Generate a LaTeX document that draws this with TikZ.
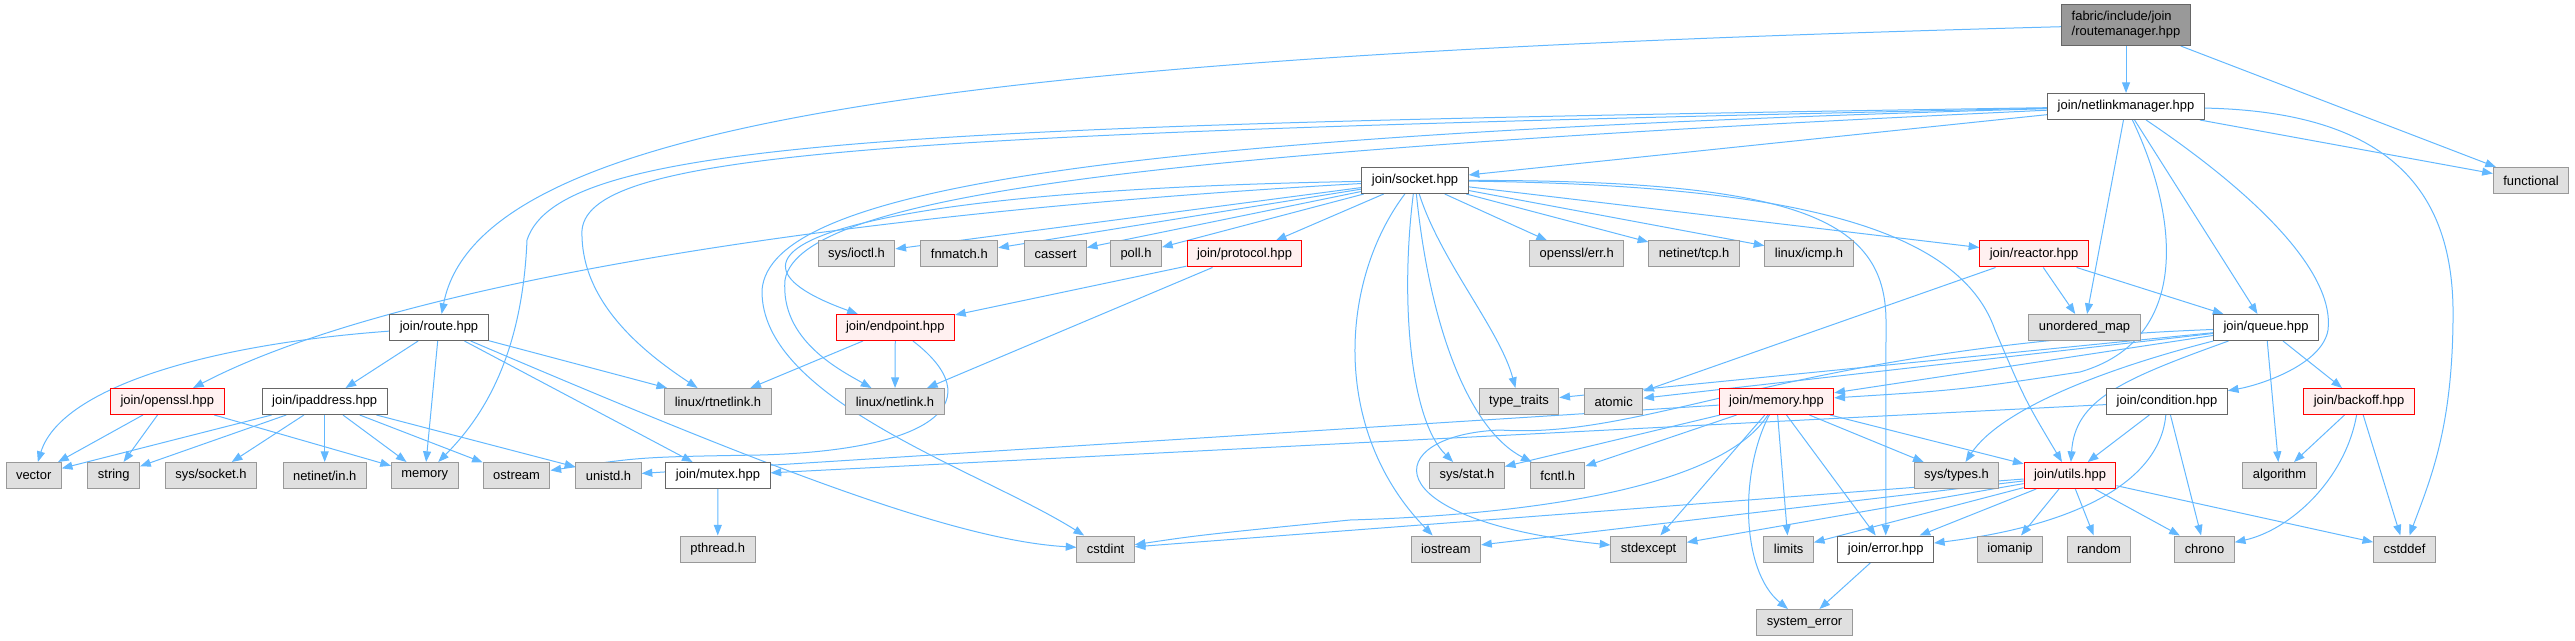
\documentclass[tikz,border=0pt]{standalone}
\usepackage{fontspec}
\newfontfamily\dxfont{Liberation Sans}
\usetikzlibrary{arrows.meta}
\pgfdeclarelayer{background}
\pgfsetlayers{background,main}
\definecolor{edgeblue}{HTML}{63B8FF}
\definecolor{sysfill}{HTML}{E0E0E0}
\definecolor{sysline}{HTML}{999999}
\definecolor{hdrline}{HTML}{666666}
\definecolor{errfill}{HTML}{FFF0F0}
\definecolor{errline}{HTML}{FF0000}
\definecolor{rootfill}{HTML}{999999}
\begin{document}
\begin{tikzpicture}[x=0.75pt, y=-0.75pt]
      \tikzstyle{every node}=[rectangle, draw, line width=0.75pt, minimum height=19.5pt, inner xsep=7.5pt, inner ysep=2pt, font=\dxfont\fontsize{9.7}{11.25}\selectfont]
      \tikzstyle{sysbox}=[fill=sysfill, draw=sysline]
      \tikzstyle{hdrbox}=[fill=white, draw=hdrline]
      \tikzstyle{errbox}=[fill=errfill, draw=errline]
      \tikzstyle{rootbox}=[fill=rootfill, draw=hdrline, align=left, minimum height=30.75pt]
      \tikzstyle{link}=[draw=edgeblue, line width=0.75pt, -{Triangle[length=8pt, width=6pt]}]

      \useasboundingbox (0,0) rectangle (2575,641);

      % project headers
      \path (2126,25) node[rootbox] (root) {fabric/include/join\\/routemanager.hpp};
      \path (2126,106.5) node[hdrbox] (netlinkmgr) {join/netlinkmanager.hpp};
      \path (1415,180.5) node[hdrbox] (socket) {join/socket.hpp};
      \path (1244.5,254) node[errbox] (protocol) {join/protocol.hpp};
      \path (2034,254) node[errbox] (reactor) {join/reactor.hpp};
      \path (439,327.5) node[hdrbox] (route) {join/route.hpp};
      \path (895.3,327.5) node[errbox] (endpoint) {join/endpoint.hpp};
      \path (2266,327.5) node[hdrbox] (queue) {join/queue.hpp};
      \path (167.3,401.5) node[errbox] (openssl) {join/openssl.hpp};
      \path (324.7,401.5) node[hdrbox] (ipaddress) {join/ipaddress.hpp};
      \path (1776.5,401.5) node[errbox] (memoryhpp) {join/memory.hpp};
      \path (2167,401.5) node[hdrbox] (condition) {join/condition.hpp};
      \path (2359,401.5) node[errbox] (backoff) {join/backoff.hpp};
      \path (718,475.5) node[hdrbox] (mutex) {join/mutex.hpp};
      \path (2070,475.5) node[errbox] (utils) {join/utils.hpp};
      \path (1885.7,549) node[hdrbox] (error) {join/error.hpp};

      % system headers
      \foreach \n/\x/\y/\t in {functional/2531/180.5/functional,
        sysioctl/856.5/254/{sys/ioctl.h}, fnmatch/959.3/254/fnmatch.h,
        cassert/1055.5/254/cassert, poll/1136/254/poll.h,
        opensslerr/1576.7/254/{openssl/err.h}, tcp/1694/254/{netinet/tcp.h},
        icmp/1809/254/{linux/icmp.h}, umap/2084.5/327.5/unordered\_map,
        rtnetlink/718/401.5/{linux/rtnetlink.h}, netlink/895/401.5/{linux/netlink.h},
        typetraits/1519/401.5/type\_traits, atomic/1613.7/401.5/atomic,
        vector/33.7/475.5/vector, string/113.8/475.5/string,
        syssocket/211/475.5/{sys/socket.h}, netinetin/324.7/475.5/{netinet/in.h},
        memory/424.8/475.5/memory, ostream/516.6/475.5/ostream,
        unistd/608.5/475.5/unistd.h, sysstat/1467/475.5/{sys/stat.h},
        fcntl/1557.7/475.5/fcntl.h, systypes/1956.5/475.5/{sys/types.h},
        algorithm/2279.5/475.5/algorithm, pthread/717.7/549/pthread.h,
        cstdint/1105.6/549/cstdint, iostream/1445.8/549/iostream,
        stdexcept/1648.6/549/stdexcept, limits/1788.6/549/limits,
        iomanip/2010/549/iomanip, random/2099/549/random,
        chrono/2204.5/549/chrono, cstddef/2404.5/549/cstddef,
        syserror/1804.5/622.5/system\_error}
      {
        \path (\x,\y) node[sysbox] (\n) {\t};
      }

      % includes
      \begin{pgfonlayer}{background}
      \path (root) edge[link] (netlinkmgr) edge[link] (functional);
      \draw[link] (root) .. controls (1000,55) and (480,115) .. (route);

      \path (netlinkmgr) edge[link] (socket) edge[link] (functional)
        edge[link] (umap) edge[link] (queue);
      \draw[link] (netlinkmgr) .. controls (900,125) and (560,140) .. (527,240) .. controls (522,360) and (480,420) .. (memory);
      \draw[link] (netlinkmgr) .. controls (900,133) and (590,150) .. (582,230) .. controls (580,300) and (640,350) .. (rtnetlink);
      \draw[link] (netlinkmgr) .. controls (1100,135) and (770,190) .. (762,290) .. controls (760,400) and (980,470) .. (cstdint);
      \draw[link] (netlinkmgr) .. controls (1200,150) and (800,190) .. (785,280) .. controls (780,340) and (840,370) .. (netlink);
      \draw[link] (netlinkmgr) .. controls (2400,112) and (2455,200) .. (2453,320) .. controls (2452,430) and (2430,480) .. (cstddef);
      \draw[link] (netlinkmgr) .. controls (2250,190) and (2335,270) .. (2328,330) .. controls (2322,365) and (2260,385) .. (condition);
      \draw[link] (netlinkmgr) .. controls (2180,220) and (2190,340) .. (2080,372) .. controls (1960,390) .. (memoryhpp);

      \path (socket) edge[link] (sysioctl) edge[link] (fnmatch) edge[link] (cassert)
        edge[link] (poll) edge[link] (protocol) edge[link] (opensslerr)
        edge[link] (tcp) edge[link] (icmp) edge[link] (reactor);
      \draw[link] (socket) .. controls (850,190) and (680,250) .. (endpoint);
      \draw[link] (socket) .. controls (800,215) and (380,290) .. (openssl);
      \draw[link] (socket) .. controls (1440,260) and (1500,330) .. (typetraits);
      \draw[link] (socket) .. controls (1400,300) and (1410,420) .. (sysstat);
      \draw[link] (socket) .. controls (1430,330) and (1470,430) .. (fcntl);
      \draw[link] (socket) .. controls (1340,280) and (1330,430) .. (iostream);
      \draw[link] (socket) .. controls (1800,185) and (1960,230) .. (1995,330) .. controls (2025,400) .. (utils);
      \draw[link] (socket) .. controls (1800,180) and (1885,220) .. (1886,320) -- (error);

      \path (route) edge[link] (ipaddress) edge[link] (memory)
        edge[link] (mutex) edge[link] (rtnetlink);
      \draw[link] (route) .. controls (200,345) and (60,390) .. (vector);
      \draw[link] (route) .. controls (750,460) and (950,540) .. (cstdint);

      \path (openssl) edge[link] (vector) edge[link] (string) edge[link] (memory);
      \path (ipaddress) edge[link] (vector) edge[link] (string) edge[link] (syssocket)
        edge[link] (netinetin) edge[link] (memory) edge[link] (ostream) edge[link] (unistd);

      \path (endpoint) edge[link] (rtnetlink) edge[link] (netlink);
      \draw[link] (endpoint) .. controls (990,400) and (940,450) .. (760,455) .. controls (640,457) .. (ostream);
      \path (protocol) edge[link] (endpoint) edge[link] (netlink);

      \path (reactor) edge[link] (umap) edge[link] (queue) edge[link] (atomic);

      \path (queue) edge[link] (typetraits) edge[link] (atomic) edge[link] (memoryhpp)
        edge[link] (algorithm) edge[link] (backoff);
      \draw[link] (queue) .. controls (1800,345) and (1650,440) .. (1500,430) .. controls (1380,435) and (1370,520) .. (stdexcept);
      \draw[link] (queue) .. controls (2100,370) and (2000,410) .. (systypes);
      \draw[link] (queue) .. controls (2120,380) and (2075,400) .. (utils);

      \path (condition) edge[link] (mutex) edge[link] (utils) edge[link] (chrono);
      \draw[link] (condition) .. controls (2160,480) and (2080,525) .. (error);

      \path (backoff) edge[link] (algorithm) edge[link] (cstddef);
      \draw[link] (backoff) .. controls (2345,480) and (2290,530) .. (chrono);

      \path (memoryhpp) edge[link] (sysstat) edge[link] (fcntl) edge[link] (unistd)
        edge[link] (systypes) edge[link] (utils) edge[link] (error)
        edge[link] (limits) edge[link] (stdexcept);
      \draw[link] (memoryhpp) .. controls (1740,470) and (1740,570) .. (syserror);
      \draw[link] (memoryhpp) .. controls (1720,490) and (1520,515) .. (1350,520) .. controls (1200,535) .. (cstdint);

      \path (utils) edge[link] (cstdint) edge[link] (iostream) edge[link] (stdexcept)
        edge[link] (limits) edge[link] (error) edge[link] (iomanip)
        edge[link] (random) edge[link] (chrono) edge[link] (cstddef);

      \path (error) edge[link] (syserror);
      \path (mutex) edge[link] (pthread);
      \end{pgfonlayer}
    \end{tikzpicture}
\end{document}
